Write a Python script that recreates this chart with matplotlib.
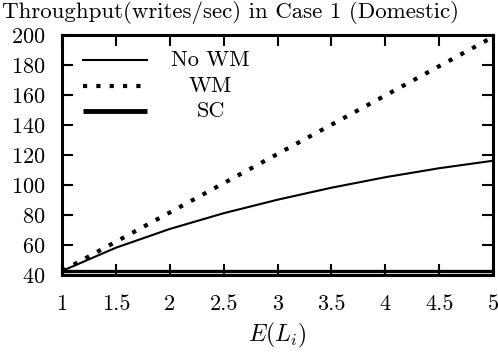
import matplotlib.pyplot as plt

plt.rcParams['font.family'] = ['cmr10', 'DejaVu Serif']
plt.rcParams['mathtext.fontset'] = 'cm'
plt.rcParams['axes.formatter.use_mathtext'] = True

# data
x_vals = [1, 1.5, 2, 2.5, 3, 3.5, 4, 4.5, 5]
no_wm = [43, 58.5, 71, 81.5, 90.5, 98.5, 105.5, 111.5, 116.5]
wm = [43, 62.5, 82, 101.5, 121, 140.5, 160, 179.5, 199]
sc = [43] * len(x_vals)

labels = ['No WM', 'WM', 'SC']
title = 'Throughput(writes/sec) in Case 1 (Domestic)'

fig = plt.figure(figsize=(4.98, 3.54), dpi=100)
ax = fig.add_axes([0.1245, 0.2218, 0.8655, 0.678])

dot = dict(lw=3, linestyle=(0, (1, 2.2)), dash_capstyle='butt')
ax.plot(x_vals, no_wm, color='black', lw=1.5)
ax.plot(x_vals, wm, color='black', **dot)
ax.plot(x_vals, sc, color='black', lw=2.4, solid_capstyle='butt')

ax.set_xlim(1, 5)
ax.set_ylim(40, 200)
ax.set_xticks([1, 1.5, 2, 2.5, 3, 3.5, 4, 4.5, 5])
ax.set_xticklabels(['1', '1.5', '2', '2.5', '3', '3.5', '4', '4.5', '5'])
ax.set_yticks(range(40, 201, 20))
ax.tick_params(direction='in', length=8, width=1.5, labelsize=16,
               top=True, right=True)
ax.tick_params(axis='x', pad=14)
ax.tick_params(axis='y', pad=12)
for s in ax.spines.values():
    s.set_linewidth(2.2)

ax.set_xlabel(r'$E(L_i)$', fontsize=17, labelpad=5)

# legend drawn by hand (text centred like the original)
styles = [dict(lw=1.5), dot, dict(lw=3.5, solid_capstyle='butt')]
ys = [0.898, 0.79, 0.685]
for lab, st, yy in zip(labels, styles, ys):
    ax.plot([0.049, 0.197], [yy, yy], color='black', transform=ax.transAxes, **st)
    ax.text(0.345, yy, lab, transform=ax.transAxes, ha='center', va='center', fontsize=16)

fig.text(0.004, 0.964, title, fontsize=16.5, ha='left', va='center')

fig.savefig('out.png', dpi=100)
